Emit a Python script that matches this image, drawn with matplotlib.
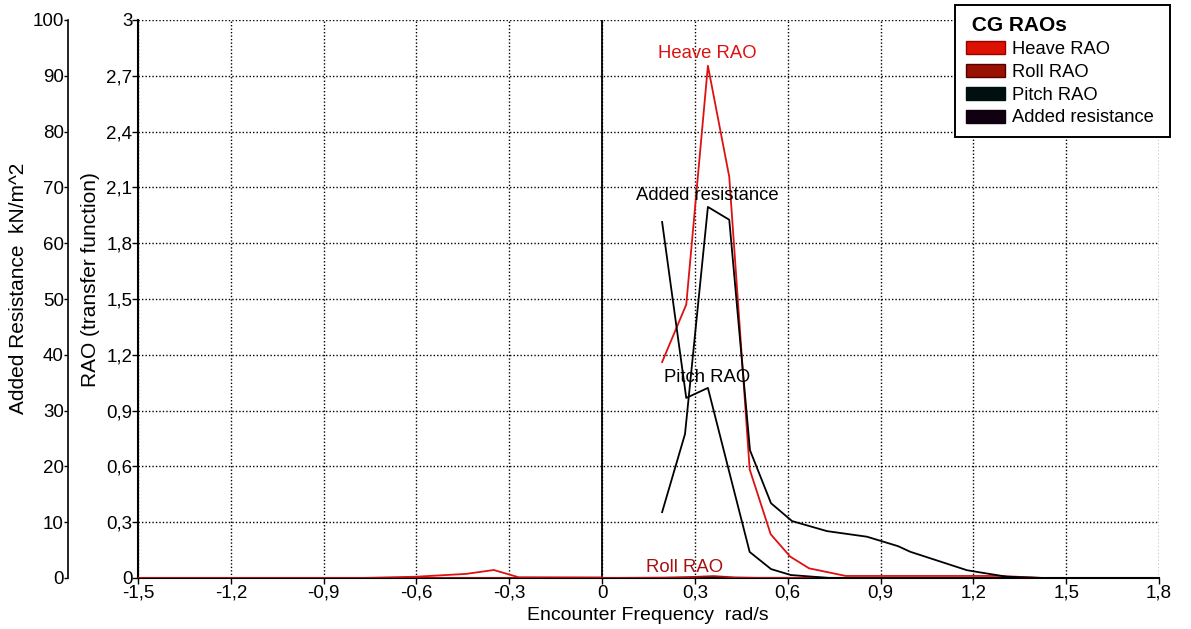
import matplotlib
matplotlib.use("Agg")
import matplotlib.pyplot as plt
from matplotlib.patches import Patch
from matplotlib.ticker import FuncFormatter, MultipleLocator
import numpy as np

plt.rcParams["font.family"] = ["Liberation Sans", "DejaVu Sans"]

# encounter frequency (rad/s) and responses
heave_x = [-1.5, -0.78, -0.6, -0.44, -0.35, -0.27, 0.0, np.nan,
           0.194, 0.272, 0.342, 0.411, 0.477, 0.545, 0.608, 0.669, 0.788, 1.287, 1.426]
heave_y = [0.0, 0.0, 0.007, 0.022, 0.043, 0.004, 0.003, np.nan,
           1.161, 1.47, 2.754, 2.157, 0.584, 0.235, 0.115, 0.052, 0.011, 0.011, 0.0]

roll_x = [-1.5, 0.0, 0.2, 0.3, 0.36, 0.43, 0.5, 1.43]
roll_y = [0.0, 0.0, 0.002, 0.006, 0.01, 0.003, 0.001, 0.0]

pitch_x = [0.194, 0.272, 0.342, 0.411, 0.477, 0.546, 0.61, 0.737, 1.43]
pitch_y = [1.914, 0.968, 1.022, 0.57, 0.14, 0.048, 0.016, 0.0, 0.0]

# added resistance in kN/m^2
added_x = [0.194, 0.268, 0.342, 0.411, 0.478, 0.546, 0.614, 0.727, 0.856,
           0.957, 0.996, 1.179, 1.222, 1.308, 1.426]
added_y = [11.8, 25.8, 66.5, 64.2, 22.9, 13.4, 10.2, 8.4, 7.4,
           5.7, 4.7, 1.4, 1.0, 0.23, 0.0]

heave_col = "#dd1111"
roll_col = "#a81010"

fig = plt.figure(figsize=(11.91, 6.29), dpi=100)
ax = fig.add_axes([138 / 1191, 1 - 578 / 629, 1021 / 1191, 558 / 629])
ax2 = ax.twinx()

def comma(v, pos):
    if abs(v) < 1e-9:
        return "0"
    if abs(v - round(v)) < 1e-9:
        return "%d" % round(v)
    return ("%.1f" % v).replace(".", ",")

ax.set_xlim(-1.5, 1.8)
ax.set_ylim(0, 3)
ax.xaxis.set_major_locator(MultipleLocator(0.3))
ax.yaxis.set_major_locator(MultipleLocator(0.3))
ax.xaxis.set_major_formatter(FuncFormatter(comma))
ax.yaxis.set_major_formatter(FuncFormatter(comma))
ax.grid(True, color="black", linestyle=(0, (1, 1.5)), linewidth=1.0)
ax.axvline(0, color="black", linewidth=1.3, zorder=1)
for s in ["top", "right"]:
    ax.spines[s].set_visible(False)
for s in ["left", "bottom"]:
    ax.spines[s].set_linewidth(1.5)
ax.tick_params(labelsize=13.5, length=4, width=1, pad=0)
ax.tick_params(axis="x", pad=1)

ax.plot(heave_x, heave_y, color=heave_col, linewidth=1.3, zorder=3)
ax.plot(roll_x, roll_y, color=roll_col, linewidth=1.3, zorder=3)
ax.plot(pitch_x, pitch_y, color="black", linewidth=1.3, zorder=3)

ax.text(0.339, 2.82, "Heave RAO", color=heave_col, fontsize=13.3, ha="center", va="center")
ax.text(0.339, 2.054, "Added resistance", color="black", fontsize=13.3, ha="center", va="center")
ax.text(0.339, 1.08, "Pitch RAO", color="black", fontsize=13.3, ha="center", va="center")
ax.text(0.268, 0.059, "Roll RAO", color=roll_col, fontsize=13.3, ha="center", va="center")

# second scale for added resistance on the far left
ax2.set_ylim(0, 100)
ax2.yaxis.set_major_locator(MultipleLocator(10))
ax2.yaxis.tick_left()
ax2.yaxis.set_label_position("left")
ax2.spines["left"].set_position(("axes", -70 / 1021))
ax2.spines["left"].set_linewidth(1.2)
for s in ["top", "right", "bottom"]:
    ax2.spines[s].set_visible(False)
ax2.tick_params(labelsize=13.5, length=3, width=1, pad=0)
ax2.plot(added_x, added_y, color="black", linewidth=1.3, zorder=3)

ax.set_xlabel("Encounter Frequency  rad/s", fontsize=14)
ax.set_ylabel("RAO (transfer function)", fontsize=15)
ax2.set_ylabel("Added Resistance  kN/m^2", fontsize=15)
ax.xaxis.set_label_coords((648 - 138) / 1021, -(607 - 578) / 558)
ax.yaxis.set_label_coords(-(138 - 100) / 1021, (578 - 280) / 558)
ax2.yaxis.set_label_coords(-(138 - 28) / 1021, (578 - 288) / 558)

handles = [
    Patch(facecolor="#dd1100", edgecolor="#990000", label="Heave RAO"),
    Patch(facecolor="#991100", edgecolor="#550000", label="Roll RAO"),
    Patch(facecolor="#001010", edgecolor="#001010", label="Pitch RAO"),
    Patch(facecolor="#100010", edgecolor="#100010", label="Added resistance"),
]
leg = ax2.legend(handles=handles, title=" CG RAOs", loc="upper left", mode="expand",
                 bbox_to_anchor=(955 / 1191, 1 - 5 / 629, 215 / 1191, 0),
                 bbox_transform=fig.transFigure,
                 fontsize=13.2, title_fontproperties={"weight": "bold", "size": 15},
                 fancybox=False, framealpha=1, edgecolor="black",
                 handlelength=2.1, handleheight=0.72, handletextpad=0.4,
                 labelspacing=0.32, borderpad=0.6, borderaxespad=0, alignment="left")
leg.get_frame().set_linewidth(1.4)

fig.savefig("out.png", dpi=100)
